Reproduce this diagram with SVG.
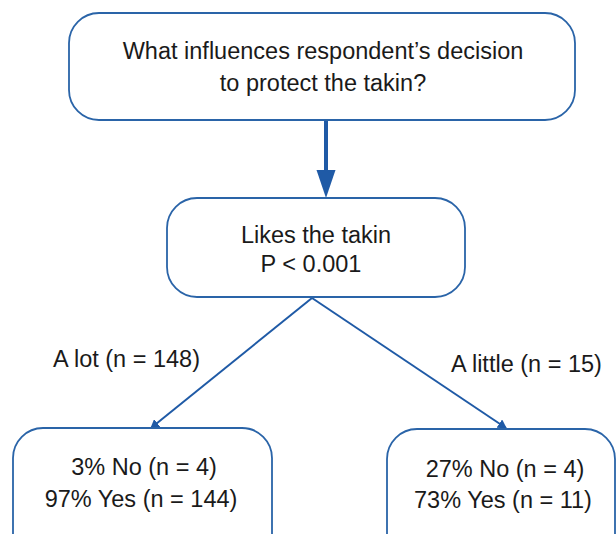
<svg xmlns="http://www.w3.org/2000/svg" width="616" height="534" viewBox="0 0 616 534">
<style>
.box{fill:#fff;stroke:#2a64a8;stroke-width:1.8}
.t{font-family:"Liberation Sans",Arial,sans-serif;font-size:23.5px;fill:#1a1a1a;text-anchor:middle}
.l{font-family:"Liberation Sans",Arial,sans-serif;font-size:23.5px;fill:#1a1a1a}
.c{stroke:#1f5aa6;fill:none}
</style>
<defs>
<marker id="sm" markerWidth="10" markerHeight="10" refX="8" refY="5" orient="auto" markerUnits="userSpaceOnUse">
<path d="M0,0 L9,5 L0,10 Z" fill="#1f5aa6"/>
</marker>
</defs>
<rect width="616" height="534" fill="#fff"/>
<g id="connectors">
<line class="c" x1="326" y1="120" x2="326" y2="172" stroke-width="4"/>
<path d="M316.5,170 L335.5,170 L326,198 Z" fill="#1f5aa6"/>
<line class="c" x1="312" y1="298" x2="151" y2="428" stroke-width="2" marker-end="url(#sm)"/>
<line class="c" x1="312" y1="298" x2="506" y2="428" stroke-width="2" marker-end="url(#sm)"/>
<text class="l" x="53" y="367">A lot (n = 148)</text>
<text class="l" x="451" y="372">A little (n = 15)</text>
</g>
<g id="root">
<rect class="box" x="69" y="13" width="506" height="107" rx="30"/>
<text class="t" x="323" y="59">What influences respondent’s decision</text>
<text class="t" x="323" y="91">to protect the takin?</text>
</g>
<g id="likes">
<rect class="box" x="167" y="198" width="298" height="99" rx="30"/>
<text class="t" x="316" y="243">Likes the takin</text>
<text class="t" x="311" y="272">P &lt; 0.001</text>
</g>
<g id="alot">
<rect class="box" x="13" y="428" width="259" height="140" rx="30"/>
<text class="t" x="144" y="475">3% No (n = 4)</text>
<text class="t" x="141" y="507">97% Yes (n = 144)</text>
</g>
<g id="alittle">
<rect class="box" x="387" y="429" width="228" height="140" rx="30"/>
<text class="t" x="505" y="477">27% No (n = 4)</text>
<text class="t" x="503" y="508">73% Yes (n = 11)</text>
</g>
</svg>
